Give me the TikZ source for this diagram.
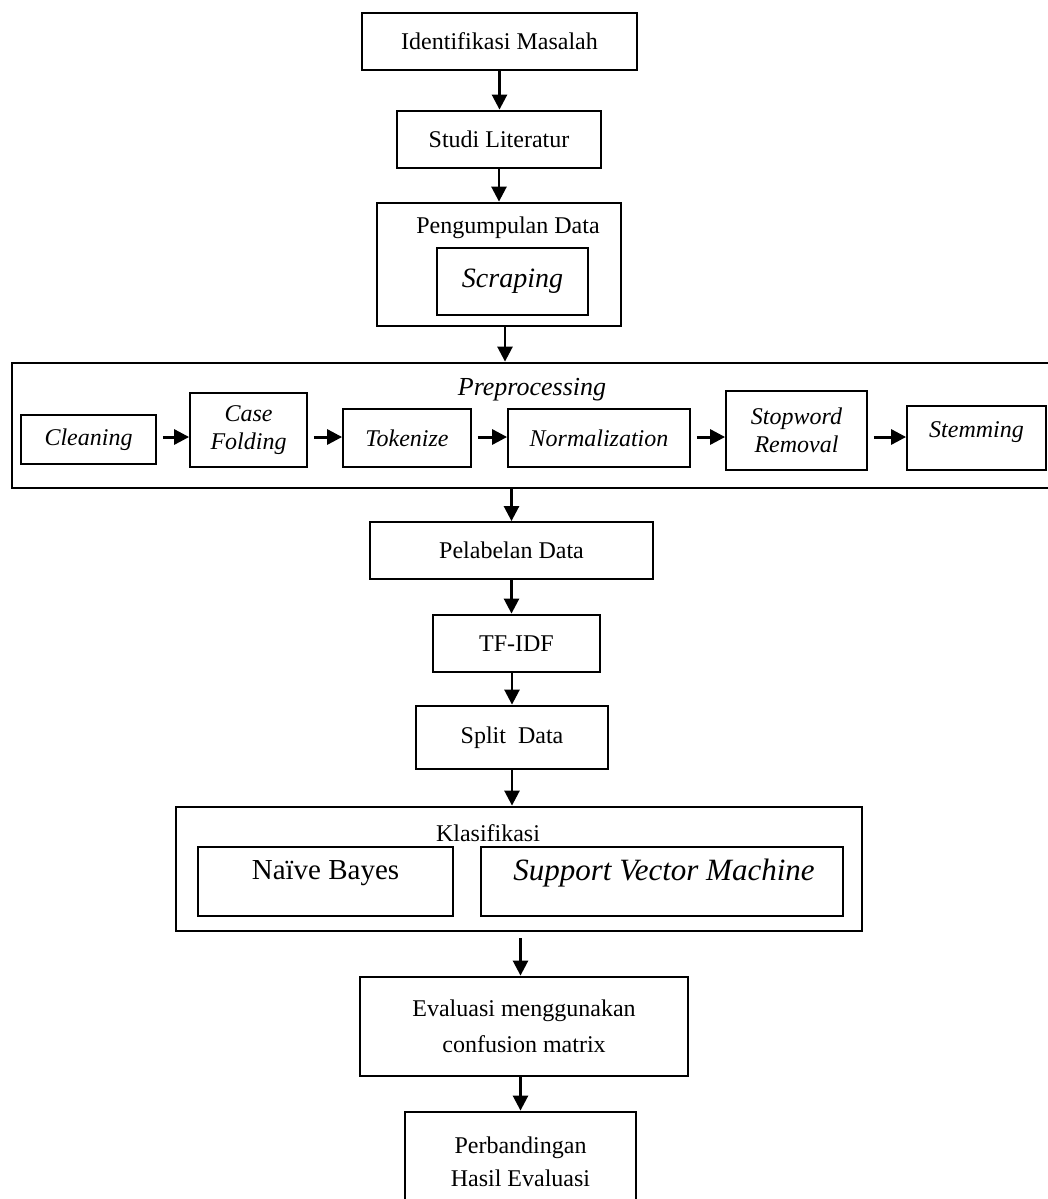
\documentclass[tikz,border=0pt]{standalone}
\usepackage{fontspec}
\setmainfont{Liberation Serif}
\usetikzlibrary{positioning, arrows.meta}

\begin{document}
\begin{tikzpicture}[
    x=0.5pt, y=-0.5pt,
    box/.style={
        rectangle,
        draw=black,
        line width=1.4pt,
        inner sep=2pt,
        align=center,
        font=\fontsize{12}{14}\selectfont
    },
    boxthin/.style={
        box,
        line width=0.9pt
    },
    boxstep/.style={
        boxthin,
        font=\fontsize{12}{14}\selectfont\itshape
    },
    caption/.style={
        inner sep=0pt,
        align=center,
        font=\fontsize{12}{14}\selectfont
    },
    arrow/.style={
        -{Triangle[length=7.5pt, width=7.5pt]},
        line width=1.3pt
    },
    arrowstep/.style={
        -{Triangle[length=7.5pt, width=7.5pt]},
        line width=1.5pt
    }
]
\useasboundingbox (0,0) rectangle (1048,1199);

% Nodes
\node[box, minimum width=137.5pt, minimum height=28.5pt] (ident) at (499.5,41.5) {Identifikasi Masalah};
\node[box, minimum width=102pt, minimum height=28.5pt] (studi) at (499,139.5) {Studi Literatur};
\node[box, minimum width=122pt, minimum height=61.5pt] (kumpul) at (499,264.5) {};
\node[caption] (kumpultext) at (508,228) {Pengumpulan Data};
\node[boxthin, minimum width=75.5pt, minimum height=33.5pt, font=\fontsize{14}{16}\selectfont\itshape] (scrap) at (512.5,281.5) {Scraping};

% Preprocessing
\node[box, minimum width=525pt, minimum height=62.5pt] (prep) at (537,425.5) {};
\node[caption, font=\fontsize{13}{15}\selectfont\itshape] (preptext) at (532,390) {Preprocessing};
\node[boxstep, minimum width=67.5pt, minimum height=24.5pt] (clean) at (88.5,439.5) {Cleaning};
\node[boxstep, minimum width=58.5pt, minimum height=37pt] (fold) at (248.5,430) {Case\\Folding};
\node[boxstep, minimum width=64pt, minimum height=29pt] (token) at (407,438) {Tokenize};
\node[boxstep, minimum width=91pt, minimum height=29pt] (norm) at (599,438) {Normalization};
\node[boxstep, minimum width=70.5pt, minimum height=39.5pt] (stop) at (796.5,430.5) {Stopword\\Removal};
\node[boxstep, minimum width=69.5pt, minimum height=32pt] (stem) at (976.5,438) {\raisebox{8pt}{Stemming}};
\coordinate (flow) at (0,437);

\node[boxthin, minimum width=141.5pt, minimum height=28.5pt] (label) at (511.5,550.5) {Pelabelan Data};
\node[box, minimum width=83.5pt, minimum height=28.5pt] (tfidf) at (516.5,643.5) {TF-IDF};
\node[box, minimum width=96pt, minimum height=31.5pt] (split) at (512,737.5) {Split\ \ Data};

% Klasifikasi
\node[box, minimum width=343pt, minimum height=62pt] (klas) at (519,869) {};
\node[caption] (klastext) at (488,833) {Klasifikasi};
\node[boxthin, minimum width=127.5pt, minimum height=34.5pt] (nb) at (325.5,881.5) {};
\node[caption, font=\fontsize{14.5}{16}\selectfont] (nbtext) at (325.5,873) {Naïve Bayes};
\node[boxthin, minimum width=181pt, minimum height=34.5pt] (svm) at (662,881.5) {};
\node[caption, font=\fontsize{15.5}{17}\selectfont\itshape] (svmtext) at (664,873) {Support Vector Machine};

\node[box, minimum width=164pt, minimum height=49.5pt, font=\fontsize{12}{18}\selectfont] (eval) at (524,1026.5) {Evaluasi menggunakan\\confusion matrix};
\node[box, minimum width=115.5pt, minimum height=49.5pt, font=\fontsize{12}{16.5}\selectfont] (banding) at (520.5,1161.5) {Perbandingan\\Hasil Evaluasi};

% Main flow arrows
\draw[arrow] (ident.south) -- (ident.south |- studi.north);
\draw[arrow] (studi.south) -- (studi.south |- kumpul.north);
\draw[arrow] ([xshift=3pt]kumpul.south) -- ([xshift=3pt]kumpul.south |- prep.north);
\draw[arrow] (label.north |- prep.south) -- (label.north);
\draw[arrow] (label.south) -- (label.south |- tfidf.north);
\draw[arrow] (split.north |- tfidf.south) -- (split.north);
\draw[arrow] (split.south) -- (split.south |- klas.north);
\draw[arrow] ([yshift=-3pt]banding.north |- klas.south) -- (banding.north |- eval.north);
\draw[arrow] (banding.north |- eval.south) -- (banding.north);

% Preprocessing arrows
\draw[arrowstep] ([xshift=3pt]clean.east |- flow) -- (fold.west |- flow);
\draw[arrowstep] ([xshift=3pt]fold.east |- flow) -- (token.west |- flow);
\draw[arrowstep] ([xshift=3pt]token.east |- flow) -- (norm.west |- flow);
\draw[arrowstep] ([xshift=3pt]norm.east |- flow) -- (stop.west |- flow);
\draw[arrowstep] ([xshift=3pt]stop.east |- flow) -- (stem.west |- flow);

\end{tikzpicture}
\end{document}
